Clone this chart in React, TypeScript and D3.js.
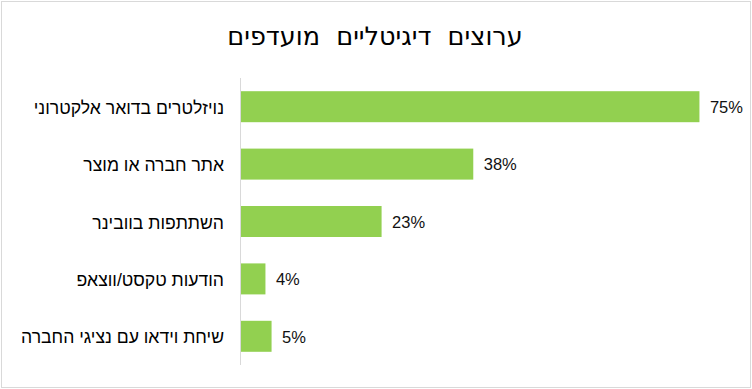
import React from "react";
import * as d3 from "d3";

const title = "ערוצים  דיגיטליים  מועדפים";
const categories = [
  "נויזלטרים בדואר אלקטרוני",
  "אתר חברה או מוצר",
  "השתתפות בוובינר",
  "הודעות טקסט/ווצאפ",
  "שיחת וידאו עם נציגי החברה",
];
const values = [0.75, 0.38, 0.23, 0.04, 0.05];

const W = 752;
const H = 389;
const plot = { left: 240.5, right: 729.5, top: 78, bottom: 365 };

export default function App() {
  const x = d3.scaleLinear().domain([0, 0.8]).range([plot.left, plot.right]);
  const y = d3
    .scaleBand<string>()
    .domain(categories)
    .range([plot.top, plot.bottom])
    .paddingInner(0.46)
    .paddingOuter(0.23);
  const fmt = d3.format(".0%");
  return (
    <div style={{ position: "fixed", left: 0, top: 0 }}>
      <svg width={W} height={H} style={{ display: "block" }}>
        <rect x={0} y={0} width={W} height={H} fill="#fff" />
        <rect x={1.5} y={1.5} width={W - 3} height={H - 3} fill="none" stroke="#d9d9d9" strokeWidth={1} />
        <text
          x={375}
          y={45}
          textAnchor="middle"
          fontFamily="DejaVu Sans"
          fontSize={25.5}
          fill="#000"
          direction="rtl"
          style={{ whiteSpace: "pre" }}
        >
          {title}
        </text>
        <line x1={240.5} x2={240.5} y1={plot.top} y2={plot.bottom} stroke="#d9d9d9" strokeWidth={1} />
        {categories.map((c, i) => (
          <g key={c}>
            <rect
              x={x(0) + 0.5}
              y={y(c)!}
              width={x(values[i]) - x(0)}
              height={y.bandwidth()}
              fill="#92D050"
            />
            <text
              x={224}
              y={y(c)! + y.bandwidth() / 2 + 1}
              dy="0.35em"
              textAnchor="start"
              direction="rtl"
              fontFamily="Liberation Sans"
              fontSize={17.6}
              fill="#000"
            >
              {c}
            </text>
            <text
              x={x(values[i]) + 11}
              y={y(c)! + y.bandwidth() / 2 + 0.5}
              dy="0.35em"
              fontFamily="Liberation Sans"
              fontSize={16.5}
              fill="#111"
            >
              {fmt(values[i])}
            </text>
          </g>
        ))}
      </svg>
    </div>
  );
}
